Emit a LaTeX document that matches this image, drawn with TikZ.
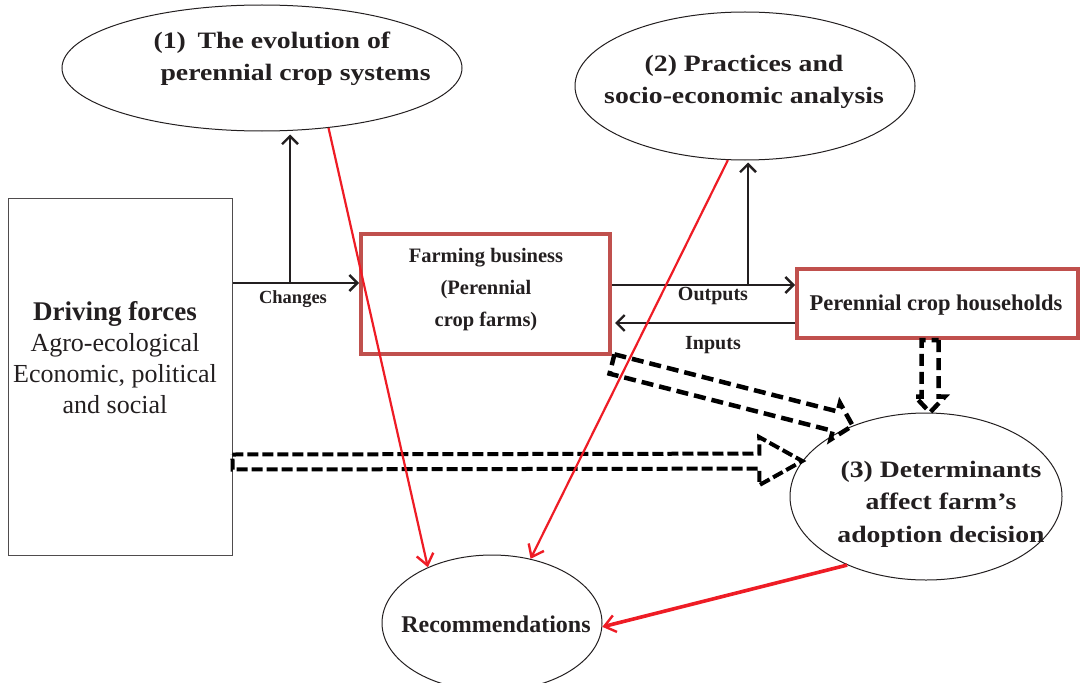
\documentclass[tikz,border=0pt]{standalone}
\usepackage{fontspec}
\setmainfont{Liberation Serif}
\newfontfamily\widebf[FakeStretch=1.18]{Liberation Serif Bold}
\usetikzlibrary{shapes.geometric,arrows.meta,calc}

\definecolor{ink}{HTML}{231F20}
\definecolor{boxred}{HTML}{C0504D}
\definecolor{linkred}{HTML}{EE1C25}

\tikzset{
  oval/.style={ellipse, draw=ink, line width=1pt, inner sep=0pt},
  farmbox/.style={draw=boxred, line width=4pt, inner sep=0pt},
  conn/.style={draw=ink, line width=2.4pt,
    -{Straight Barb[length=8pt,width=16pt,line width=2.4pt]}},
  redconn/.style={draw=linkred, line width=2.2pt,
    -{Straight Barb[length=11pt,width=17pt,line width=2.4pt]}},
  hollow/.style={draw=black, line width=4.5pt, dash pattern=on 12pt off 6pt,
    line join=miter},
  lbl/.style={text=ink, font=\bfseries\fontsize{20}{24}\selectfont},
  ovaltext/.style={text=ink, align=center, font=\widebf\fontsize{23.5}{32.5}\selectfont},
}

% hollow dashed block arrow: [extra style]{tail}{tip}{shaft half width}{head half width}{head length}
\newcommand\hollowarrow[6][]{%
  \coordinate (ha-base) at ($(#3)!#6!(#2)$);
  \draw[hollow,#1]
    ($(#2)!#4!90:(#3)$) -- ($(ha-base)!#4!90:(#3)$) -- ($(ha-base)!#5!90:(#3)$)
    -- (#3) -- ($(ha-base)!#5!-90:(#3)$) -- ($(ha-base)!#4!-90:(#3)$)
    -- ($(#2)!#4!-90:(#3)$) -- cycle;
}

\begin{document}
\begin{tikzpicture}[x=1pt,y=-1pt]
\useasboundingbox (0,0) rectangle (1083,682);

% study components
\node[oval, minimum width=400pt, minimum height=126pt] (e1) at (262,68) {};
\node[ovaltext, align=left, anchor=west] (e1txt) at (150,59)
  {(1)\enspace The evolution of\\\hspace*{7pt}perennial crop systems};
\node[oval, minimum width=340pt, minimum height=148pt] (e2) at (745,86) {};
\node[ovaltext] (e2txt) at (744,82) {(2) Practices and\\socio-economic analysis};
\node[oval, minimum width=272pt, minimum height=167pt] (e3) at (926,496.5) {};
\node[ovaltext] (e3txt) at (941,504) {(3) Determinants\\affect farm’s\\adoption decision};
\node[oval, minimum width=220pt, minimum height=136pt] (rec) at (492,623) {};
\node[text=ink, font=\bfseries\fontsize{24}{28}\selectfont] (rectxt) at (496,624) {Recommendations};

% driving forces
\node[draw=ink!80, line width=1pt, minimum width=224pt, minimum height=357pt, inner sep=0pt]
  (drive) at (120,376.5) {};
\node[text=ink, align=center, font=\fontsize{26}{31}\selectfont] (drivetxt) at (115,358)
  {\textbf{\fontsize{27}{31}\selectfont Driving forces}\\Agro-ecological\\Economic, political\\and social};

% farms and households
\node[farmbox, minimum width=249pt, minimum height=120pt] (farm) at (485.5,294) {};
\node[text=ink, align=center, font=\bfseries\fontsize{20.5}{32}\selectfont] (farmtxt) at (486,290)
  {Farming business\\(Perennial\\crop farms)};
\node[farmbox, minimum width=281pt, minimum height=69pt] (house) at (937.5,303.5) {};
\node[text=ink, font=\bfseries\fontsize{22.5}{24}\selectfont] (housetxt) at (936,305)
  {Perennial crop households};

% flows between farms and households
\coordinate (chg) at (290,283);
\draw[conn] (drive.east |- chg) -- (farm.west |- chg);
\draw[conn, shorten >=3pt] (chg) -- (chg |- e1.south);
\node[lbl, font=\bfseries\fontsize{18.5}{22}\selectfont] (chglbl) at (293,299) {Changes};

\coordinate (outj) at (748,285);
\draw[conn] (farm.east |- outj) -- (house.west |- outj);
\draw[conn, shorten >=2pt] (outj) -- (outj |- e2.south);
\node[lbl] (outlbl) at (713,296) {Outputs};

\coordinate (inj) at (700,323);
\draw[conn, shorten >=3pt] (house.west |- inj) -- (farm.east |- inj);
\node[lbl] (inlbl) at (713,345) {Inputs};

% dashed influence arrows towards the determinants
\coordinate (dfy) at (0,462);
\coordinate (t1) at (drive.east |- dfy);
\hollowarrow[line width=4pt, dash pattern=on 11pt off 4pt]{t1}{e3.164}{7.5pt}{24pt}{43pt}
\coordinate (t2) at ($(farm.south east)+(0,8)$);
\hollowarrow{t2}{e3.136}{10pt}{19pt}{18pt}
\coordinate (vx) at (930,0);
\coordinate (t3) at (house.south -| vx);
\coordinate (h3) at (vx |- e3.north);
\hollowarrow{t3}{h3}{8.5pt}{15pt}{16pt}

% results feeding the recommendations
\draw[redconn] (e1.-42) -- (rec.139);
\draw[redconn] (e2.-103) -- (rec.59);
\draw[redconn, line width=3.6pt] (e3.-139) -- (rec.-2);
\end{tikzpicture}
\end{document}
